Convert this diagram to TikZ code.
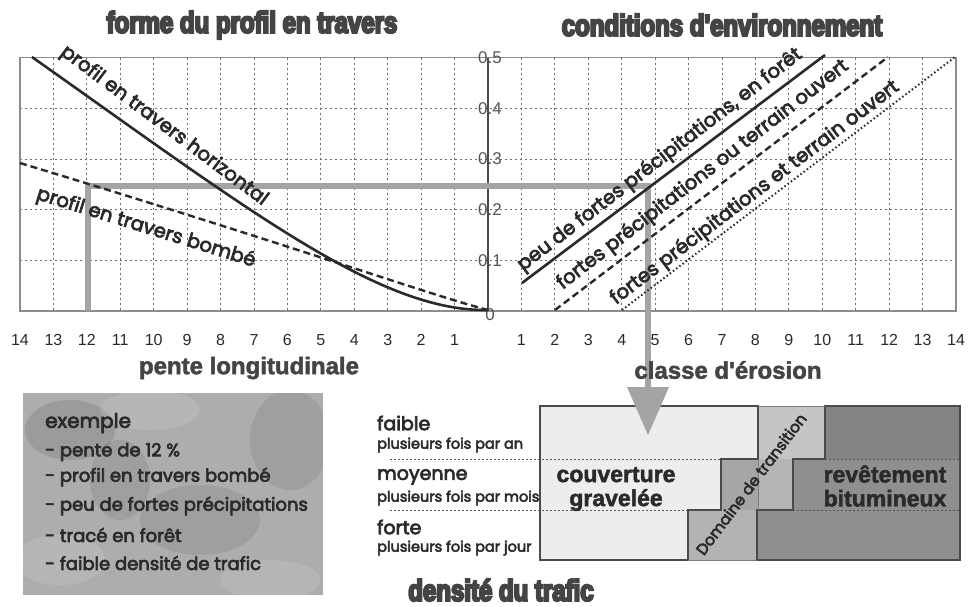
\documentclass[tikz,border=0pt]{standalone}
\usepackage{fontspec}
\setmainfont{Liberation Sans}
\newfontfamily\fut{Poppins}
\newfontfamily\futm[FakeBold=3.5]{Poppins}
\newfontface\heavy[FakeStretch=0.8,FakeBold=7]{Liberation Sans Bold}
\newfontface\semib[FakeBold=2]{Liberation Sans Bold}
\definecolor{ink}{HTML}{2A2A2A}
\definecolor{ttl}{HTML}{444444}
\definecolor{gridc}{HTML}{6E6E6E}
\definecolor{framec}{HTML}{8C8C8C}
\definecolor{pathc}{HTML}{A4A4A4}
\definecolor{lightc}{HTML}{EDEDED}
\definecolor{darkc}{HTML}{8F8F8F}
\definecolor{transa}{HTML}{C5C5C5}
\definecolor{transb}{HTML}{A6A6A6}
\definecolor{transc}{HTML}{B3B3B3}
\definecolor{exc}{HTML}{ADADAD}
\tikzset{
  title/.style={text=ttl,font=\heavy\fontsize{30}{30}\selectfont,inner sep=0pt},
  subtitle/.style={text=ttl,font=\semib\fontsize{24}{24}\selectfont,inner sep=0pt},
  gridl/.style={gridc,line width=0.8pt,dash pattern=on 2pt off 3pt},
  framel/.style={framec,line width=1.2pt},
  axisl/.style={ink!85,line width=1.2pt},
  num/.style={text=ink,font=\fontsize{16}{16}\selectfont,inner sep=0pt},
  ynum/.style={text=ink!80,font=\fontsize{17}{17}\selectfont,inner sep=0pt},
  curve/.style={ink,line width=2.6pt},
  dashcurve/.style={ink,line width=2.4pt,dash pattern=on 7pt off 4pt},
  dotcurve/.style={ink,line width=2pt,dash pattern=on 1.5pt off 2.5pt},
  lab/.style={text=ink,font=\futm\fontsize{19.5}{19.5}\selectfont,inner sep=0pt},
  pathl/.style={pathc,line width=6.5pt},
  rowlab/.style={text=ink,font=\futm\fontsize{19}{19}\selectfont,inner sep=0pt,anchor=west},
  rowsub/.style={text=ink,font=\futm\fontsize{14.5}{14.5}\selectfont,inner sep=0pt,anchor=west},
  rowsep/.style={ink!80,line width=0.9pt,dash pattern=on 2pt off 2pt},
  cell/.style={text=ink,font=\semib\fontsize{23}{23}\selectfont,inner sep=0pt,align=center},
  outl/.style={ink!85,line width=1.3pt},
  exl/.style={text=ink,font=\futm\fontsize{18}{18}\selectfont,inner sep=0pt,anchor=west}
}
\begin{document}
\begin{tikzpicture}[x=1pt,y=-1pt]
\useasboundingbox (0,0) rectangle (970,606);
\fill[white] (0,0) rectangle (970,606);

% titles
\node[title] (t1) at (252,25) {forme du profil en travers};
\node[title] (t2) at (722,25) {conditions d'environnement};

% grid
\foreach \k in {1,...,13}{
  \draw[gridl] ({488-33.43*\k},57.5) -- ({488-33.43*\k},311);
  \draw[gridl] ({488+33.43*\k},57.5) -- ({488+33.43*\k},311);
}
\foreach \v in {0.1,0.2,0.3,0.4}
  \draw[gridl] (20,{311-507*\v}) -- (956,{311-507*\v});
\draw[framel] (20,57.5) rectangle (956,311);
\draw[axisl] (488,57.5) -- (488,311);

% axis numbers
\foreach \k in {1,...,14}{
  \node[num] (l\k) at ({488-33.43*\k},340) {\k};
  \node[num] (r\k) at ({488+33.43*\k},340) {\k};
}
\foreach \v/\t in {0.5/0.5,0.4/0.4,0.3/0.3,0.2/0.2,0.1/0.1}
  \node[ynum] at (490,{311-507*\v}) {\t};
\node[ynum] (y0) at (490,315) {0};

% example path (gray)
\coordinate (pa) at (88,311);
\coordinate (pb) at (88,186);
\coordinate (pc) at (648,186);
\coordinate (pd) at (648,392);
\draw[pathl] (pa) -- (pb) -- (pc) -- (pd);

% left curves
\draw[curve] (32,57) .. controls (250,211) and (380,312) .. (488,310);
\draw[dashcurve] (20,163) .. controls (300,248) and (430,295) .. (488,310);
\node[lab,rotate=-36.8] (lh) at (164,126) {profil en travers horizontal};
\node[lab,rotate=-17.3] (lb) at (146,228) {profil en travers bombé};

% right lines
\draw[curve] (522,283) -- (825,55);
\draw[dashcurve] (555,310) -- (888,57);
\draw[dotcurve] (622,310) -- (955,57);
\node[lab,rotate=37.5] (ra) at (660,160) {peu de fortes précipitations, en forêt};
\node[lab,rotate=37.7] (rb) at (703,175) {fortes précipitations ou terrain ouvert};
\node[lab,rotate=37.2] (rc) at (755,193) {fortes précipitations et terrain ouvert};

% subtitles
\node[subtitle] (s1) at (249,368) {pente longitudinale};
\node[subtitle] (s2) at (728,370) {classe d'érosion};

% table
\fill[transa] (540,406) rectangle (960,560);
\fill[transb] (721,459) rectangle (758,510);
\fill[transa!92!black] (758,459) rectangle (793,510);
\fill[transc] (688,510) rectangle (757,560);
\fill[lightc] (540,406) -- (758,406) -- (758,459) -- (721,459) -- (721,510) -- (688,510) -- (688,560) -- (540,560) -- cycle;
\fill[darkc] (825,406) -- (960,406) -- (960,560) -- (757,560) -- (757,510) -- (793,510) -- (793,459) -- (825,459) -- cycle;
\fill[darkc!92!black] (825,406) rectangle (960,459);
\draw[outl] (540,406) -- (758,406) -- (758,459) -- (721,459) -- (721,510) -- (688,510) -- (688,560) -- (540,560) -- cycle;
\draw[outl] (825,406) -- (960,406) -- (960,560) -- (757,560) -- (757,510) -- (793,510) -- (793,459) -- (825,459) -- cycle;
\draw[ink!60,line width=0.8pt] (758,406) -- (825,406) (688,560) -- (757,560) (758,459) -- (758,510);
\draw[rowsep] (390,459) -- (721,459);
\draw[rowsep] (390,510) -- (688,510);
\draw[rowsep] (825,459) -- (960,459);
\draw[rowsep] (793,510) -- (960,510);
\fill[pathc] (627,387) -- (669,387) -- (648,435) -- cycle;

\node[rowlab] (f1) at (377,423) {faible};
\node[rowsub] (f2) at (377,445) {plusieurs fois par an};
\node[rowlab] (m1) at (377,477) {moyenne};
\node[rowsub] (m2) at (377,498) {plusieurs fois par mois};
\node[rowlab] (h1) at (377,527) {forte};
\node[rowsub] (h2) at (377,548) {plusieurs fois par jour};

\node[cell] (cg) at (616,489) {couverture\\[1pt]gravelée};
\node[cell] (cb) at (885,486) {revêtement\\[1pt]bitumineux};
\node[lab,font=\futm\fontsize{15.5}{15.5}\selectfont,rotate=53] (dt) at (751,484) {Domaine de transition};

\node[title] (t3) at (501,590) {densité du trafic};

% example box
\fill[exc] (23,393) rectangle (323,595);
\begin{scope}
\clip (23,393) rectangle (323,595);
\fill[black,opacity=0.10] (70,430) ellipse (45pt and 30pt);
\fill[black,opacity=0.08] (200,520) ellipse (60pt and 35pt);
\fill[black,opacity=0.08] (290,440) ellipse (40pt and 50pt);
\fill[black,opacity=0.08] (120,480) ellipse (30pt and 40pt);
\fill[white,opacity=0.12] (150,410) ellipse (50pt and 20pt);
\fill[white,opacity=0.12] (60,560) ellipse (45pt and 25pt);
\fill[white,opacity=0.10] (270,580) ellipse (50pt and 20pt);
\end{scope}
\node[exl,font=\futm\fontsize{20}{20}\selectfont] (e0) at (45,423) {exemple};
\node[exl] (e1) at (45,452) {- pente de 12 \%};
\node[exl] (e2) at (45,477) {- profil en travers bombé};
\node[exl] (e3) at (45,506) {- peu de fortes précipitations};
\node[exl] (e4) at (45,535) {- tracé en forêt};
\node[exl] (e5) at (45,563) {- faible densité de trafic};
\end{tikzpicture}
\end{document}
